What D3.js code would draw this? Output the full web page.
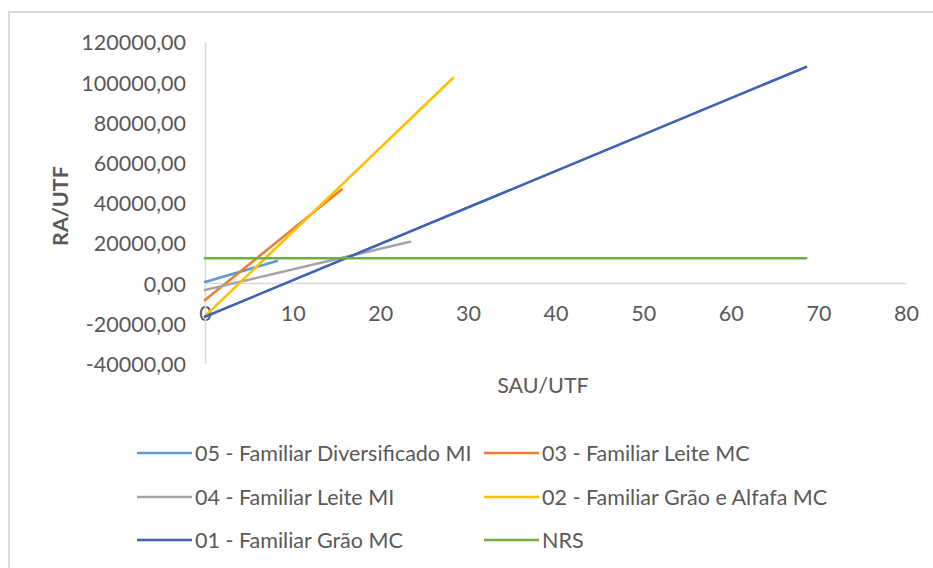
<!DOCTYPE html>
<html>
<head>
<meta charset="utf-8">
<script src="https://cdn.jsdelivr.net/npm/d3@7"></script>
<style>
  html, body { margin: 0; padding: 0; background: #ffffff; }
  svg { display: block; }
  text { font-family: Lato, "Open Sans", sans-serif; fill: #595959; }
</style>
</head>
<body>
<svg id="chart" width="933" height="568"></svg>
<script>
// ---- data ----
const seriesNames = [
  "05 - Familiar Diversificado MI",
  "03 - Familiar Leite MC",
  "04 - Familiar Leite MI",
  "02 - Familiar Grão e Alfafa MC",
  "01 - Familiar Grão MC",
  "NRS"
];
const seriesColors = ["#5B9BD5", "#ED7D31", "#A5A5A5", "#FFC000", "#3F62B5", "#70AD47"];
const xValues05 = [0, 8.2];      const yValues05 = [500, 10900];
const xValues03 = [0, 15.6];     const yValues03 = [-8500, 46500];
const xValues04 = [0, 23.4];     const yValues04 = [-3500, 20500];
const xValues02 = [0, 28.3];     const yValues02 = [-16500, 102000];
const xValues01 = [0, 68.6];     const yValues01 = [-16800, 107500];
const xValuesNRS = [0, 68.6];    const yValuesNRS = [12300, 12300];
const xTicks = [0, 10, 20, 30, 40, 50, 60, 70, 80];
const yTicks = [-40000, -20000, 0, 20000, 40000, 60000, 80000, 100000, 120000];
const xTitle = "SAU/UTF";
const yTitle = "RA/UTF";

const seriesX = [xValues05, xValues03, xValues04, xValues02, xValues01, xValuesNRS];
const seriesY = [yValues05, yValues03, yValues04, yValues02, yValues01, yValuesNRS];

// ---- layout ----
const FS = 21.5;
const svg = d3.select("#chart");
const x = d3.scaleLinear().domain([0, 80]).range([205, 906]);
const y = d3.scaleLinear().domain([-40000, 120000]).range([363.4, 41.8]);
const fmt = v => d3.format(".2f")(v).replace(".", ",").replace("\u2212", "-");

// chart border
svg.append("rect").attr("x", 9).attr("y", 12).attr("width", 960).attr("height", 600)
  .attr("fill", "#ffffff").attr("stroke", "#d9d9d9").attr("stroke-width", 2);

// axes
const xAxis = d3.axisBottom(x).tickValues(xTicks).tickSize(0).tickPadding(0).tickFormat(d3.format("d"));
const gx = svg.append("g").attr("transform", `translate(0,${y(0)})`).call(xAxis);
gx.select(".domain").attr("stroke", "#d9d9d9").attr("stroke-width", 1.5);
gx.selectAll("text").attr("font-size", FS).attr("dy", null).attr("y", 0)
  .attr("transform", `translate(0,${313 - y(0)})`).attr("dominant-baseline", "central")
  .attr("font-family", "Lato, sans-serif").attr("fill", "#595959");

const yAxis = d3.axisLeft(y).tickValues(yTicks).tickSize(0).tickPadding(19).tickFormat(fmt);
const gy = svg.append("g").attr("transform", `translate(${x(0)},0)`).call(yAxis);
gy.select(".domain").attr("stroke", "#d9d9d9").attr("stroke-width", 1.5);
gy.selectAll("text").attr("font-size", FS).attr("dy", null).attr("dominant-baseline", "central")
  .attr("font-family", "Lato, sans-serif").attr("fill", "#595959");

// lines
const line = d3.line().x(d => x(d[0])).y(d => y(d[1]));
seriesNames.forEach((name, i) => {
  const pts = seriesX[i].map((xv, k) => [xv, seriesY[i][k]]);
  svg.append("path").datum(pts).attr("d", line)
    .attr("fill", "none").attr("stroke", seriesColors[i]).attr("stroke-width", 2.6)
    .attr("stroke-linecap", "round");
});

// axis titles
svg.append("text").attr("x", 543).attr("y", 385).attr("text-anchor", "middle")
  .attr("dominant-baseline", "central").attr("font-size", FS).text(xTitle);
svg.append("text").attr("transform", "translate(60,206) rotate(-90)").attr("text-anchor", "middle")
  .attr("dominant-baseline", "central").attr("font-size", FS).attr("font-weight", "bold").text(yTitle);

// legend
const colX = [137, 484];
const rowY = [453, 497, 540];
seriesNames.forEach((name, i) => {
  const cx = colX[i % 2], cy = rowY[Math.floor(i / 2)];
  const g = svg.append("g").attr("transform", `translate(${cx},${cy})`);
  g.append("line").attr("x1", 0).attr("x2", 55).attr("y1", 0).attr("y2", 0)
    .attr("stroke", seriesColors[i]).attr("stroke-width", 2.6);
  g.append("text").attr("x", 58).attr("y", 0).attr("dominant-baseline", "central")
    .attr("font-size", FS).text(name);
});
</script>
</body>
</html>
